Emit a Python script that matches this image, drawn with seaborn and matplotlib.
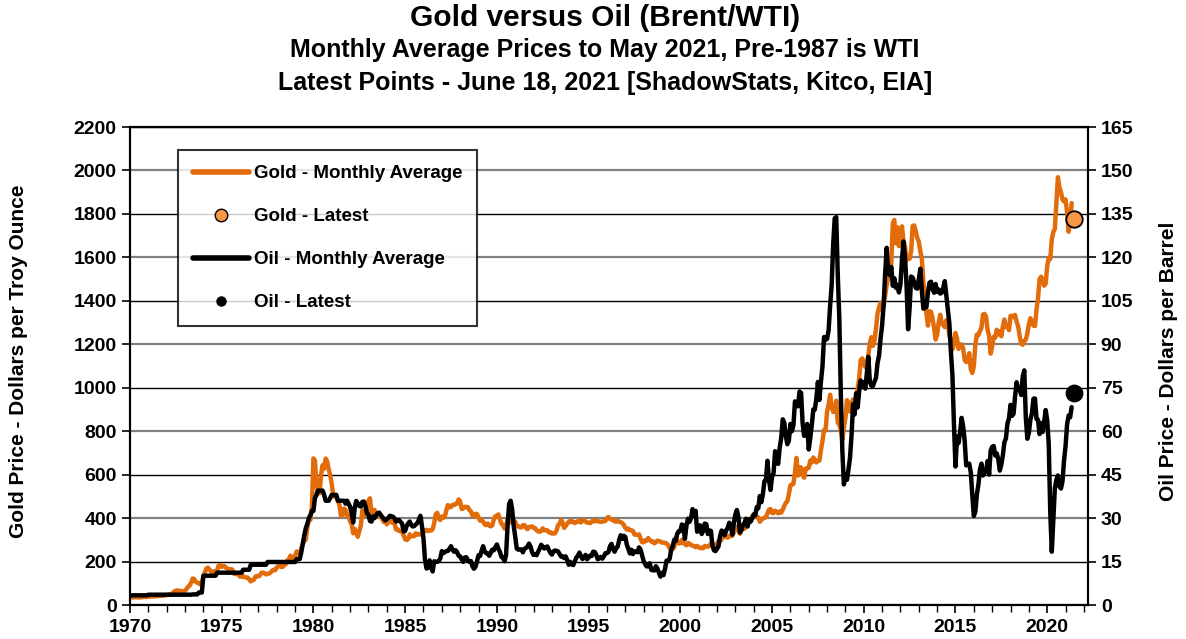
import numpy as np
import pandas as pd
import matplotlib
matplotlib.use("Agg")
import matplotlib.pyplot as plt
from matplotlib.lines import Line2D
from matplotlib.ticker import MultipleLocator
import seaborn as sns

# monthly averages, Jan 1970 .. May 2021
gold_by_year = {
    1970: [35, 35, 35, 36, 36, 35, 35, 35, 36, 38, 37, 37],
    1971: [38, 39, 39, 39, 40, 40, 41, 43, 42, 42, 43, 44],
    1972: [46, 48, 48, 49, 55, 62, 66, 67, 66, 65, 63, 64],
    1973: [65, 74, 84, 90, 102, 122, 120, 107, 103, 100, 95, 107],
    1974: [129, 150, 168, 172, 163, 154, 143, 155, 152, 159, 182, 184],
    1975: [176, 180, 178, 170, 167, 164, 165, 163, 144, 143, 143, 139],
    1976: [131, 130, 133, 128, 127, 126, 118, 109, 114, 116, 130, 134],
    1977: [132, 136, 148, 149, 147, 141, 143, 145, 150, 158, 162, 160],
    1978: [173, 178, 184, 175, 176, 184, 189, 206, 212, 227, 206, 208],
    1979: [227, 246, 242, 239, 258, 279, 295, 301, 355, 392, 392, 455],
    1980: [675, 665, 554, 517, 514, 601, 644, 627, 674, 661, 624, 597],
    1981: [557, 500, 499, 496, 480, 461, 410, 411, 444, 438, 413, 410],
    1982: [384, 374, 330, 350, 334, 314, 340, 364, 436, 423, 414, 444],
    1983: [481, 491, 420, 433, 438, 413, 423, 416, 413, 395, 382, 388],
    1984: [371, 386, 394, 381, 378, 378, 348, 349, 341, 340, 341, 320],
    1985: [303, 299, 304, 325, 316, 317, 317, 330, 324, 326, 325, 322],
    1986: [345, 339, 346, 340, 343, 343, 349, 376, 418, 424, 398, 391],
    1987: [408, 401, 409, 438, 460, 450, 451, 461, 460, 465, 467, 486],
    1988: [477, 442, 444, 452, 451, 451, 437, 432, 413, 407, 420, 419],
    1989: [404, 388, 390, 384, 371, 368, 375, 365, 362, 367, 394, 409],
    1990: [410, 417, 393, 374, 369, 352, 363, 395, 389, 381, 382, 378],
    1991: [384, 364, 363, 358, 357, 367, 368, 356, 349, 359, 360, 362],
    1992: [355, 354, 344, 339, 337, 341, 353, 343, 345, 344, 335, 335],
    1993: [329, 329, 330, 342, 367, 372, 392, 379, 355, 364, 374, 383],
    1994: [387, 382, 384, 377, 381, 386, 386, 380, 392, 390, 384, 379],
    1995: [379, 377, 382, 391, 385, 388, 386, 384, 383, 383, 386, 387],
    1996: [400, 405, 396, 393, 392, 385, 384, 388, 383, 381, 378, 369],
    1997: [355, 347, 352, 344, 344, 341, 324, 324, 323, 325, 306, 289],
    1998: [289, 298, 296, 308, 299, 292, 293, 284, 289, 296, 294, 292],
    1999: [287, 287, 286, 283, 276, 261, 256, 257, 265, 311, 293, 283],
    2000: [285, 300, 286, 280, 275, 286, 282, 275, 274, 271, 266, 272],
    2001: [266, 262, 263, 261, 272, 270, 268, 272, 283, 283, 276, 276],
    2002: [282, 296, 294, 303, 315, 321, 313, 310, 319, 317, 319, 333],
    2003: [357, 359, 341, 328, 356, 356, 351, 360, 379, 379, 390, 408],
    2004: [414, 405, 407, 403, 383, 392, 398, 401, 405, 421, 439, 442],
    2005: [424, 423, 434, 429, 422, 431, 425, 438, 456, 470, 477, 510],
    2006: [550, 555, 557, 611, 677, 596, 634, 633, 598, 586, 628, 630],
    2007: [631, 665, 656, 679, 667, 656, 665, 665, 713, 755, 806, 803],
    2008: [890, 922, 968, 910, 889, 890, 940, 839, 830, 807, 761, 816],
    2009: [859, 943, 924, 890, 929, 946, 934, 949, 997, 1043, 1127, 1135],
    2010: [1118, 1095, 1113, 1149, 1205, 1233, 1193, 1216, 1271, 1342, 1370, 1391],
    2011: [1356, 1373, 1424, 1474, 1510, 1529, 1573, 1756, 1772, 1665, 1739, 1652],
    2012: [1656, 1743, 1674, 1650, 1586, 1597, 1594, 1630, 1745, 1747, 1722, 1689],
    2013: [1672, 1628, 1593, 1488, 1414, 1343, 1286, 1352, 1349, 1317, 1276, 1222],
    2014: [1244, 1300, 1336, 1299, 1288, 1279, 1311, 1296, 1239, 1223, 1176, 1202],
    2015: [1252, 1227, 1179, 1199, 1199, 1182, 1128, 1118, 1125, 1159, 1086, 1068],
    2016: [1098, 1200, 1245, 1242, 1261, 1276, 1337, 1340, 1327, 1267, 1238, 1157],
    2017: [1192, 1234, 1231, 1267, 1246, 1260, 1237, 1283, 1314, 1280, 1282, 1265],
    2018: [1331, 1331, 1325, 1335, 1304, 1282, 1238, 1202, 1198, 1215, 1221, 1250],
    2019: [1292, 1320, 1301, 1286, 1284, 1359, 1413, 1500, 1511, 1495, 1470, 1479],
    2020: [1561, 1597, 1592, 1683, 1716, 1732, 1847, 1969, 1922, 1900, 1866, 1858],
    2021: [1867, 1808, 1718, 1760, 1850],
}

# WTI before 1987, Brent after
oil_by_year = {
    1970: [3.35] * 12,
    1971: [3.56] * 12,
    1972: [3.56] * 12,
    1973: [3.56, 3.56, 3.56, 3.56, 3.56, 3.66, 3.66, 3.66, 3.66, 4.31, 4.31, 4.31],
    1974: [10.11, 10.11, 10.11, 10.11, 10.11, 10.11, 10.11, 10.11, 10.11, 11.16, 11.16, 11.16],
    1975: [11.16] * 12,
    1976: [11.16, 11.16, 12.17, 12.17, 12.17, 12.17, 12.17, 13.9, 13.9, 13.9, 13.9, 13.9],
    1977: [13.9, 13.9, 13.9, 13.9, 13.9, 13.9, 14.85, 14.85, 14.85, 14.85, 14.85, 14.85],
    1978: [14.85] * 12,
    1979: [14.85, 15.85, 15.85, 15.85, 18.08, 21.0, 24.0, 26.5, 28.0, 30.0, 31.0, 32.5],
    1980: [32.5, 37.0, 38.0, 39.5, 39.5, 39.5, 39.5, 38.0, 36.0, 36.0, 36.0, 37.0],
    1981: [38.0, 38.0, 38.0, 38.0, 36.0, 36.0, 36.0, 36.0, 36.0, 35.0, 36.0, 35.0],
    1982: [33.9, 31.6, 28.5, 33.5, 35.9, 35.1, 34.2, 34.0, 35.6, 35.7, 34.2, 31.7],
    1983: [31.2, 29.0, 28.8, 30.6, 30.0, 31.0, 31.7, 31.9, 31.1, 30.4, 29.8, 29.2],
    1984: [29.7, 30.1, 30.8, 30.6, 30.5, 29.9, 28.8, 29.3, 29.3, 28.7, 28.1, 25.4],
    1985: [25.6, 27.3, 28.2, 28.8, 27.6, 27.1, 27.3, 27.8, 28.3, 29.5, 30.8, 27.2],
    1986: [22.9, 15.4, 12.6, 12.8, 15.4, 13.4, 11.6, 15.1, 14.9, 14.9, 15.2, 16.1],
    1987: [18.6, 17.9, 18.3, 18.6, 18.7, 19.4, 20.3, 19.0, 18.4, 18.9, 18.2, 17.0],
    1988: [16.8, 15.7, 14.9, 16.4, 16.5, 15.5, 14.9, 15.2, 13.4, 12.5, 13.2, 15.1],
    1989: [17.2, 16.9, 18.7, 20.3, 18.5, 17.9, 17.8, 17.0, 18.1, 19.1, 18.9, 19.9],
    1990: [20.9, 19.4, 18.3, 16.6, 16.3, 15.1, 17.2, 27.2, 34.9, 36.0, 33.0, 27.3],
    1991: [23.6, 19.5, 19.1, 19.2, 19.2, 18.2, 19.4, 19.7, 20.1, 21.2, 20.2, 18.3],
    1992: [17.3, 17.5, 17.2, 18.4, 19.5, 20.8, 20.1, 19.5, 20.0, 20.2, 19.0, 18.0],
    1993: [17.4, 18.5, 18.8, 18.7, 18.5, 17.6, 16.7, 16.8, 16.2, 16.8, 15.5, 13.9],
    1994: [14.9, 14.0, 13.8, 15.1, 16.4, 17.0, 18.1, 16.9, 15.9, 16.3, 17.3, 15.8],
    1995: [16.4, 17.1, 16.9, 18.4, 18.3, 17.3, 15.8, 16.1, 16.6, 16.0, 16.8, 17.9],
    1996: [17.9, 18.3, 20.3, 21.1, 19.3, 18.4, 19.6, 20.1, 22.4, 24.1, 22.8, 23.9],
    1997: [23.5, 20.9, 19.3, 17.8, 19.1, 17.6, 18.5, 18.5, 18.2, 19.9, 19.1, 17.2],
    1998: [15.2, 14.1, 13.3, 13.4, 14.4, 12.1, 12.0, 11.9, 13.4, 12.6, 11.1, 9.8],
    1999: [11.1, 10.3, 12.5, 15.3, 15.3, 15.9, 19.0, 20.3, 22.5, 22.1, 24.6, 25.5],
    2000: [25.5, 27.8, 27.5, 22.8, 27.3, 29.8, 28.7, 30.0, 33.1, 30.9, 32.5, 25.3],
    2001: [25.6, 27.5, 24.5, 25.7, 28.1, 27.9, 24.5, 25.7, 25.6, 20.5, 18.9, 18.6],
    2002: [19.4, 20.3, 23.7, 25.7, 25.4, 24.1, 25.7, 26.6, 28.4, 27.5, 24.3, 28.3],
    2003: [31.2, 32.8, 30.3, 25.0, 25.8, 27.6, 28.4, 29.8, 27.1, 29.6, 28.8, 29.8],
    2004: [31.3, 30.9, 33.8, 33.4, 37.6, 35.5, 38.2, 42.7, 43.2, 49.8, 43.1, 39.7],
    2005: [44.3, 45.5, 53.1, 51.9, 48.7, 54.3, 57.6, 64.1, 62.9, 58.5, 55.5, 56.7],
    2006: [62.5, 60.0, 62.1, 70.3, 69.8, 68.6, 73.7, 73.2, 62.8, 58.4, 58.9, 62.5],
    2007: [53.7, 57.6, 62.1, 67.5, 67.5, 71.3, 77.0, 70.8, 77.2, 82.4, 92.5, 91.5],
    2008: [91.9, 94.8, 103.3, 110.4, 124.6, 133.5, 133.9, 113.9, 99.1, 72.8, 53.2, 41.6],
    2009: [44.9, 43.2, 46.8, 50.8, 58.6, 69.3, 65.8, 73.1, 68.2, 73.9, 77.5, 75.2],
    2010: [76.9, 74.7, 79.9, 85.7, 77.0, 75.7, 75.6, 77.1, 78.4, 83.5, 86.1, 92.0],
    2011: [96.5, 103.7, 114.6, 123.3, 114.5, 113.9, 116.7, 110.2, 112.8, 109.5, 110.5, 107.9],
    2012: [110.7, 119.3, 125.5, 119.8, 110.3, 95.2, 102.6, 113.4, 113.0, 111.5, 109.5, 109.2],
    2013: [112.3, 116.1, 108.5, 102.3, 102.6, 102.9, 107.9, 111.3, 111.6, 109.1, 107.8, 110.8],
    2014: [108.1, 108.9, 107.5, 107.8, 109.5, 111.8, 106.8, 101.6, 97.1, 87.4, 79.4, 62.3],
    2015: [47.8, 58.1, 55.9, 59.5, 64.6, 61.7, 56.8, 48.2, 48.5, 48.8, 45.9, 38.0],
    2016: [30.7, 32.2, 38.2, 41.6, 46.7, 48.8, 44.7, 45.7, 46.3, 49.7, 45.0, 53.3],
    2017: [54.6, 54.9, 51.6, 52.3, 50.3, 46.4, 48.5, 51.7, 56.2, 57.5, 62.7, 64.4],
    2018: [69.1, 65.3, 66.0, 72.1, 76.9, 74.4, 74.3, 72.5, 78.9, 81.0, 64.8, 57.4],
    2019: [59.4, 64.0, 66.1, 71.2, 71.3, 64.2, 63.9, 59.0, 62.8, 59.7, 63.2, 67.3],
    2020: [63.7, 55.7, 32.0, 18.4, 29.4, 40.3, 43.2, 44.7, 40.9, 40.2, 42.7, 49.9],
    2021: [54.8, 62.3, 65.4, 64.8, 68.3],
}

latest_date = 2021 + 169 / 365   # June 18, 2021
gold_latest = 1775
oil_latest = 73.2

GOLD_COLOR = "#E36C0A"
GOLD_DOT = "#F79646"


def to_frame(by_year):
    rows = []
    for year, vals in by_year.items():
        for m, v in enumerate(vals):
            rows.append((year + m / 12, v))
    return pd.DataFrame(rows, columns=["date", "value"])


gold = to_frame(gold_by_year)
oil = to_frame(oil_by_year)

sns.set_style("ticks")
plt.rcParams["font.family"] = ["Liberation Sans", "DejaVu Sans"]
plt.rcParams["font.weight"] = "bold"
plt.rcParams["axes.labelweight"] = "bold"
for key in ("text.color", "axes.labelcolor", "xtick.color", "ytick.color"):
    plt.rcParams[key] = "black"

fig = plt.figure(figsize=(11.86, 6.39), dpi=100)
ax = fig.add_axes([0.1096, 0.0532, 0.8074, 0.7480])
ax2 = ax.twinx()

sns.lineplot(data=gold, x="date", y="value", ax=ax, color=GOLD_COLOR, linewidth=3.2, zorder=3)
sns.lineplot(data=oil, x="date", y="value", ax=ax2, color="black", linewidth=3.2, zorder=4)
ax2.scatter([latest_date], [gold_latest * 165 / 2200], s=140, color=GOLD_DOT,
            edgecolor="black", linewidth=1.3, zorder=6)
ax2.scatter([latest_date], [oil_latest], s=140, color="black", zorder=6)

ax.set_xlim(1970, 2022.2)
ax.set_ylim(0, 2200)
ax2.set_ylim(0, 165)
ax.xaxis.set_major_locator(MultipleLocator(5))
ax.xaxis.set_minor_locator(MultipleLocator(1))
ax.yaxis.set_major_locator(MultipleLocator(200))
ax2.yaxis.set_major_locator(MultipleLocator(15))

ax.set_xlabel("")
ax.set_ylabel("Gold Price - Dollars per Troy Ounce", fontsize=15)
ax2.set_ylabel("Oil Price - Dollars per Barrel", fontsize=15)
ax.yaxis.set_label_coords(-0.106, 0.51)
ax2.yaxis.set_label_coords(1.075, 0.51)

for a in (ax, ax2):
    a.tick_params(axis="both", which="major", labelsize=14, direction="out",
                  length=6, width=1.2, color="black")
    for lab in a.get_xticklabels() + a.get_yticklabels():
        lab.set_fontweight("bold")
    for s in a.spines.values():
        s.set_color("black")
        s.set_linewidth(1.5)
ax.tick_params(axis="x", which="minor", direction="out", length=5, width=1.0, color="black")
ax.tick_params(axis="x", pad=4)

# horizontal grid, alternating black / grey
ax.yaxis.grid(True)
for i, gl in enumerate(ax.get_ygridlines()):
    if i % 2:
        gl.set_color("#808080")
        gl.set_linewidth(1.6)
    else:
        gl.set_color("black")
        gl.set_linewidth(1.0)
ax.set_axisbelow(True)

handles = [
    Line2D([], [], color=GOLD_COLOR, lw=4),
    Line2D([], [], marker="o", ls="none", markerfacecolor=GOLD_DOT,
           markeredgecolor="black", markersize=9),
    Line2D([], [], color="black", lw=4),
    Line2D([], [], marker="o", ls="none", color="black", markersize=6.5),
]
labels = ["Gold - Monthly Average", "Gold - Latest", "Oil - Monthly Average", "Oil - Latest"]
leg = ax2.legend(handles, labels, loc="upper left", bbox_to_anchor=(0.05, 0.952),
                 borderaxespad=0, fontsize=13.5, frameon=True, fancybox=False,
                 handlelength=3.0, handletextpad=0.25, labelspacing=1.38, borderpad=0.8)
leg.get_frame().set_edgecolor("black")
leg.get_frame().set_linewidth(1.5)
for t in leg.get_texts():
    t.set_fontweight("bold")

fig.text(0.51, 0.972, "Gold versus Oil (Brent/WTI)", ha="center", va="center",
         fontsize=21.5, fontweight="bold")
fig.text(0.51, 0.921, "Monthly Average Prices to May 2021, Pre-1987 is WTI", ha="center",
         va="center", fontsize=18, fontweight="bold")
fig.text(0.51, 0.870, "Latest Points - June 18, 2021 [ShadowStats, Kitco, EIA]", ha="center",
         va="center", fontsize=18, fontweight="bold")

fig.savefig("out.png", dpi=100)
